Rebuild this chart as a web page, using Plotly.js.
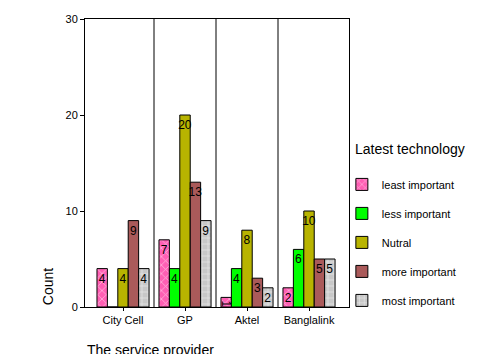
<!DOCTYPE html>
<html>
<head>
<meta charset="utf-8">
<script src="https://cdn.plot.ly/plotly-3.0.1.min.js"></script>
<style>html,body{margin:0;padding:0;background:#fff;}#chart{width:500px;height:354px;}</style>
</head>
<body>
<div id="chart"></div>
<script>
const categories = ["City Cell", "GP", "Aktel", "Banglalink"];
const seriesNames = ["least important", "less important", "Nutral", "more important", "most important"];
const leastImportant = [4, 7, 1, 2];
const lessImportant = [0, 4, 4, 6];
const nutral = [4, 20, 8, 10];
const moreImportant = [9, 13, 3, 5];
const mostImportant = [4, 9, 2, 5];
const yTicks = [0, 10, 20, 30];
const legendTitle = "Latest technology";

const seriesValues = [leastImportant, lessImportant, nutral, moreImportant, mostImportant];
const colors = ["#FF5FB4", "#00FF00", "#B8B400", "#AA5A5A", "#C8C8C8"];
const patterns = ["x", "", "", "", "+"];

const FONT = "Liberation Sans, Arial, sans-serif";

const traces = seriesValues.map((vals, i) => ({
  type: "bar",
  name: seriesNames[i],
  x: categories,
  y: vals,
  text: vals.map(v => v > 0 ? String(v) : ""),
  textposition: "inside",
  insidetextanchor: "end",
  constraintext: "none",
  textfont: {family: FONT, size: 12, color: "#000"},
  legendgroup: "g" + i,
  marker: {
    color: colors[i],
    line: {color: "#000", width: 1},
    pattern: patterns[i] ? {shape: patterns[i], fgcolor: "#FFFFFF", bgcolor: colors[i], size: 6, solidity: 0.25, fillmode: "overlay"} : {shape: ""}
  },
  hoverinfo: "none"
}));

const shapes = [];
for (let k = 0; k < categories.length - 1; k++) {
  shapes.push({type: "line", xref: "x", yref: "paper", x0: k + 0.5, x1: k + 0.5, y0: 0, y1: 1, line: {color: "#000", width: 1}});
}

const layout = {
  width: 500, height: 354,
  margin: {l: 85, r: 151, t: 19, b: 47, pad: 0},
  paper_bgcolor: "#fff", plot_bgcolor: "#fff",
  barmode: "group", bargap: 0.16, bargroupgap: 0,
  font: {family: FONT, size: 11, color: "#000"},
  xaxis: {
    type: "category", range: [-0.613, 3.645],
    showline: true, linecolor: "#000", linewidth: 1, mirror: true,
    ticks: "outside", ticklen: 3, tickcolor: "#000",
    tickfont: {family: FONT, size: 11, color: "#000"},
    showgrid: false, zeroline: false, fixedrange: true
  },
  yaxis: {
    range: [0, 30], tickvals: yTicks, ticktext: yTicks.map(String),
    showline: true, linecolor: "#000", linewidth: 1, mirror: true,
    ticks: "outside", ticklen: 4, tickcolor: "#000",
    tickfont: {family: FONT, size: 11, color: "#000"},
    showgrid: false, zeroline: false, fixedrange: true
  },
  shapes: shapes,
  showlegend: true,
  legend: {
    x: 0.973, xanchor: "left", y: 0.476, yanchor: "top",
    traceorder: "grouped", tracegroupgap: 10,
    font: {family: FONT, size: 11, color: "#000"},
    bgcolor: "rgba(0,0,0,0)", borderwidth: 0,
    itemclick: false, itemdoubleclick: false
  },
  annotations: [
    {text: "Count", xref: "paper", yref: "paper", x: -0.14, y: 0.069, textangle: -90,
     showarrow: false, xanchor: "center", yanchor: "middle", font: {family: FONT, size: 14, color: "#000"}},
    {text: "The service provider", xref: "paper", yref: "paper", x: 0, y: -0.149,
     showarrow: false, xanchor: "left", yanchor: "middle", font: {family: FONT, size: 14, color: "#000"}},
    {text: legendTitle, xref: "paper", yref: "paper", x: 1.015, y: 0.548,
     showarrow: false, xanchor: "left", yanchor: "middle", font: {family: FONT, size: 14, color: "#000"}}
  ]
};

Plotly.newPlot("chart", traces, layout, {displayModeBar: false, staticPlot: true});
</script>
</body>
</html>
